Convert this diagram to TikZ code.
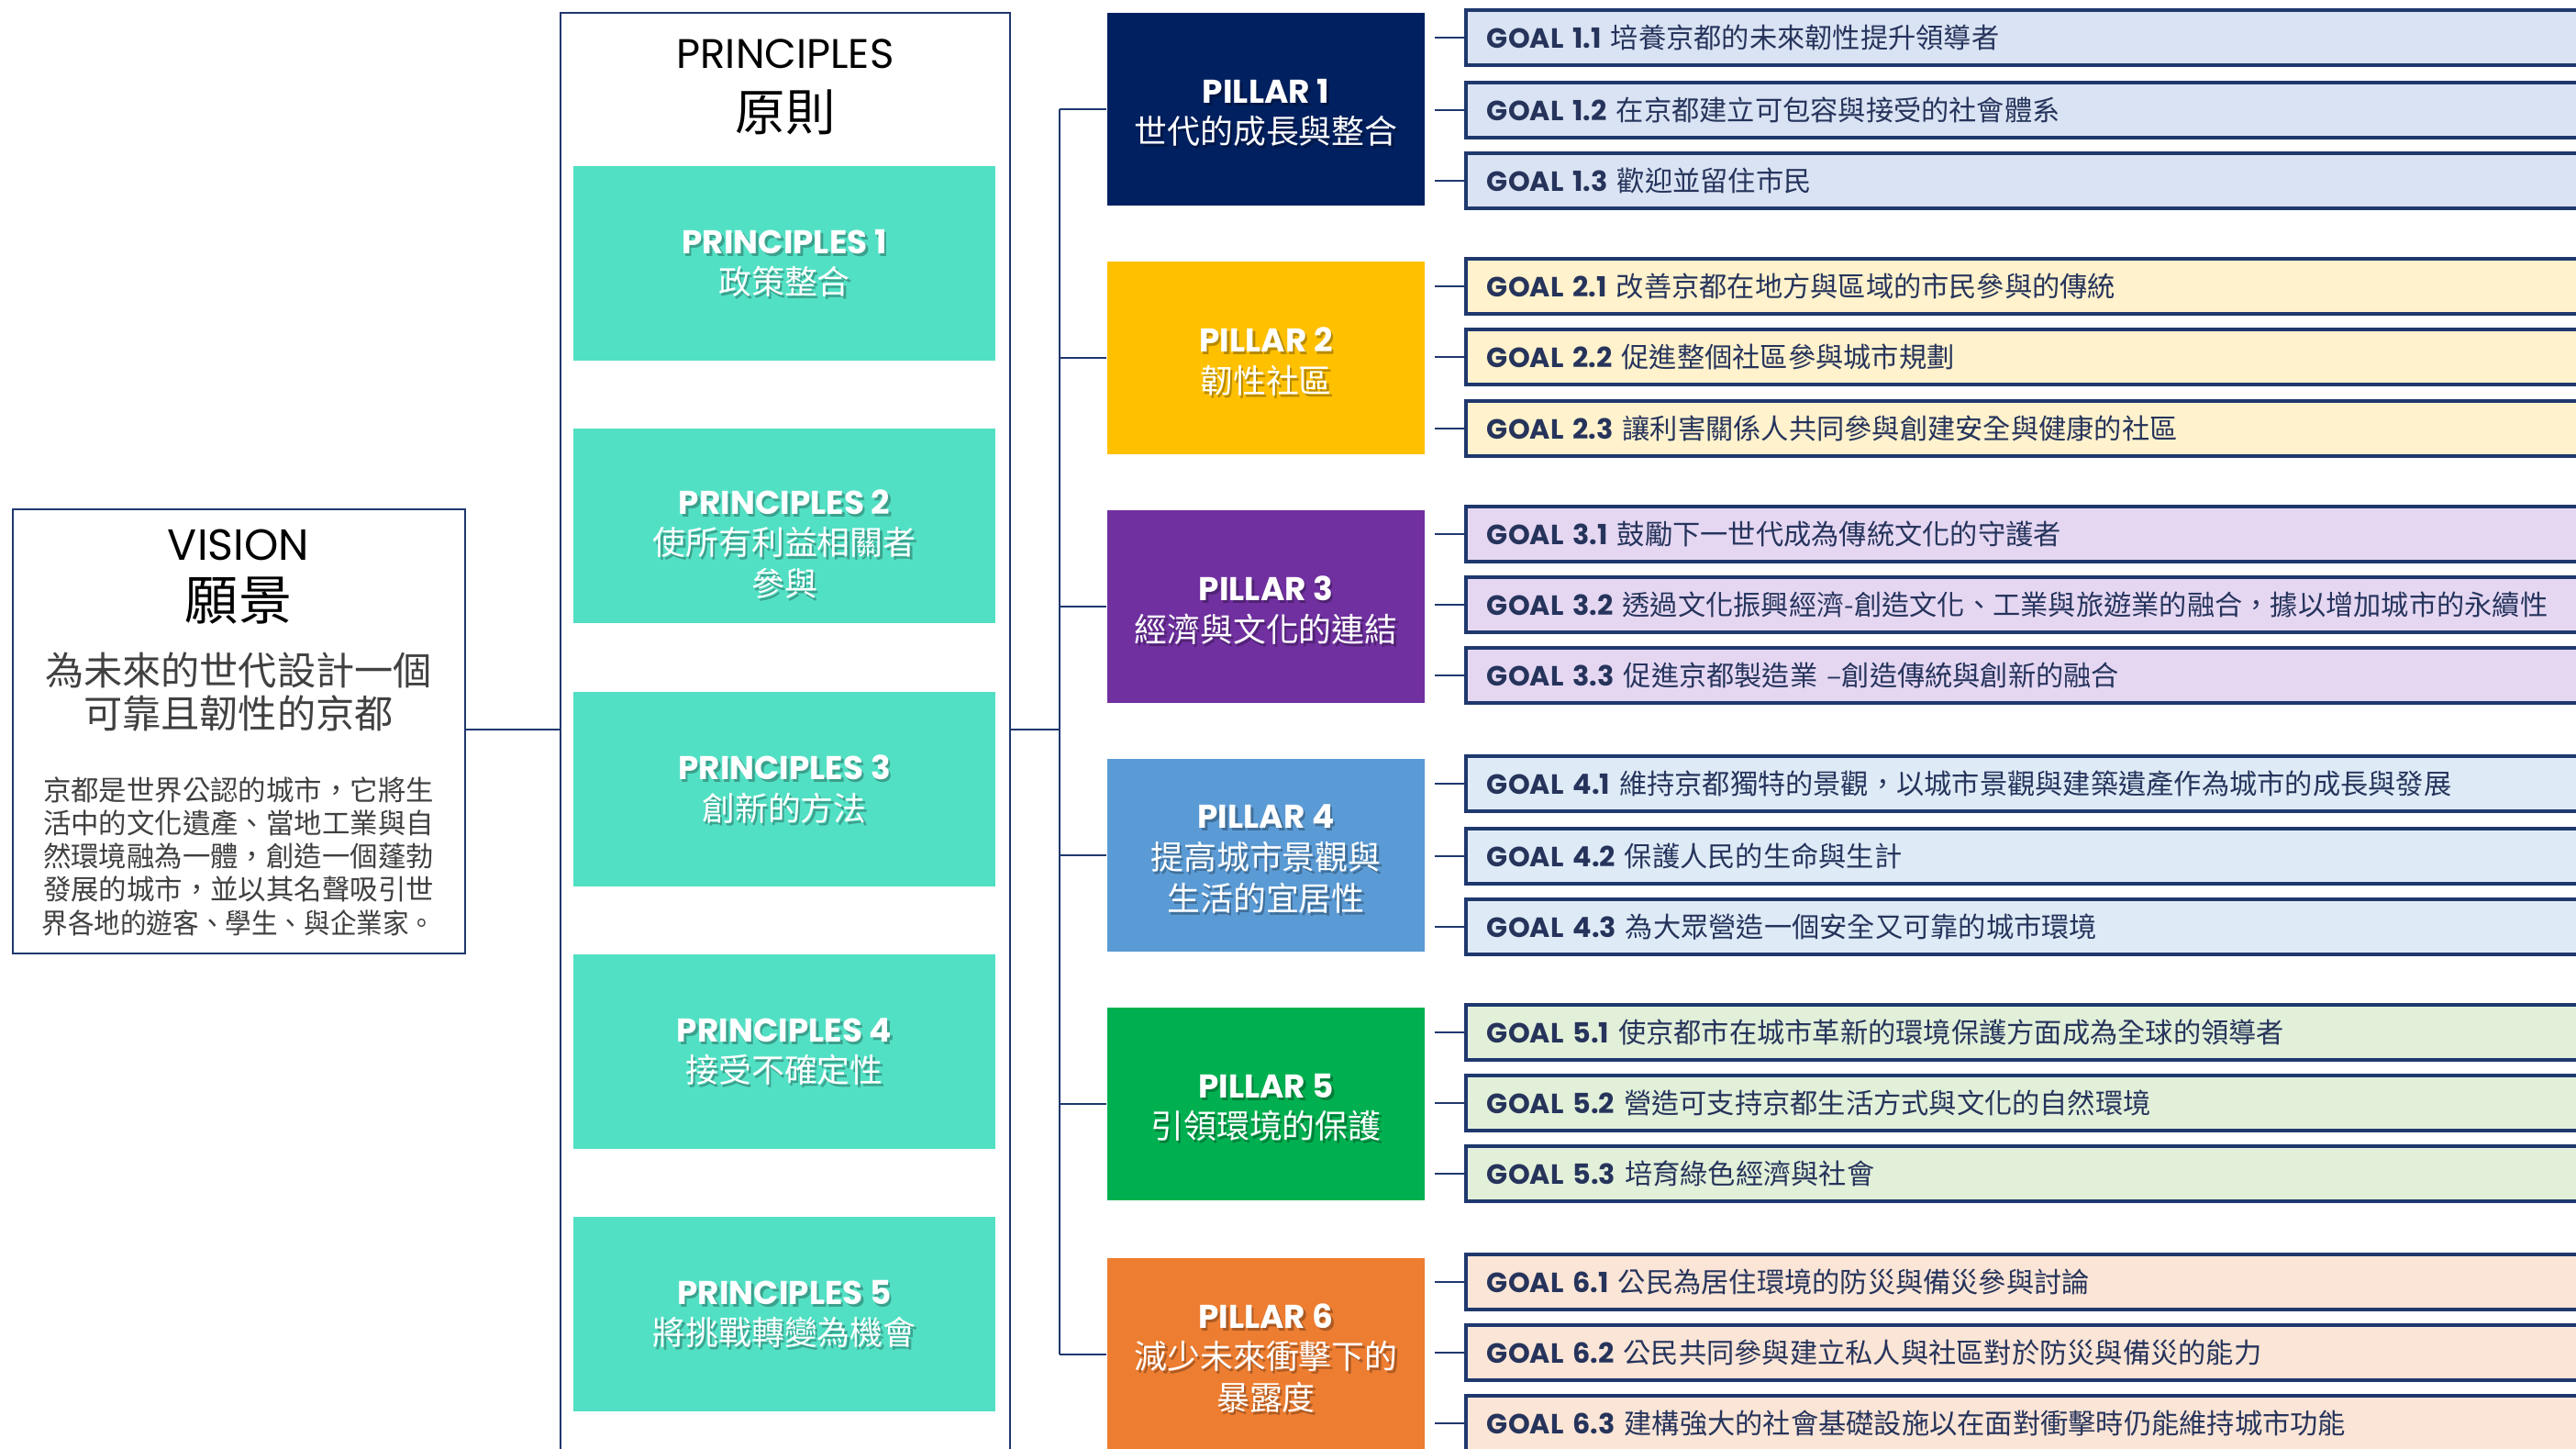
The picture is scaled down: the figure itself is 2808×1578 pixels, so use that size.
\documentclass[tikz,border=0pt]{standalone}
\usepackage{fontspec}
\setmainfont{Poppins}
\newfontfamily\cjk{Noto Sans CJK TC}
\usetikzlibrary{calc}
\definecolor{navy}{RGB}{31,56,110}
\definecolor{teal}{RGB}{82,224,196}
\definecolor{pA}{RGB}{0,32,96}
\definecolor{pB}{RGB}{255,192,0}
\definecolor{pC}{RGB}{112,48,160}
\definecolor{pD}{RGB}{91,155,213}
\definecolor{pE}{RGB}{0,176,80}
\definecolor{pF}{RGB}{237,125,49}
\definecolor{gA}{RGB}{218,227,243}
\definecolor{gB}{RGB}{255,242,204}
\definecolor{gC}{RGB}{229,215,242}
\definecolor{gD}{RGB}{222,235,247}
\definecolor{gE}{RGB}{226,240,217}
\definecolor{gF}{RGB}{251,229,214}
\definecolor{gtext}{RGB}{38,52,92}
\definecolor{dgray}{RGB}{64,64,64}
\tikzset{
  conn/.style={draw=navy, line width=0.75pt},
  frame/.style={draw=navy, line width=0.75pt},
  princ/.style={fill=teal, minimum width=4.6cm, minimum height=2.11cm, inner sep=0pt},
  pillar/.style={minimum width=3.46cm, minimum height=2.1cm, inner sep=0pt},
  boxtxt/.style={text=white, align=center, inner sep=0pt, font=\fontsize{10.2}{12.7}\selectfont},
  shtxt/.style={boxtxt, text=black, text opacity=0.28},
  goal/.style={draw=navy, line width=1.1pt, anchor=west, minimum height=0.6cm,
    text width=12.6cm, inner xsep=0.23cm, inner ysep=0pt, align=left, text=gtext,
    font=\fontsize{8.6}{10}\selectfont},
}
\newcommand\gl[2]{{\bfseries GOAL #1} {\cjk #2}}
% text with soft shadow: #1 box node name, #2 offset (px), #3 content
\newcommand\shadowed[3]{%
  \node[shtxt] (#1s) at ([shift={(2.5,3+#2)}]#1.center) {#3};
  \node[boxtxt] (#1t) at ([shift={(0,#2)}]#1.center) {#3};}
\begin{document}
\begin{tikzpicture}[x=0.01cm, y=-0.01cm]
\useasboundingbox (0,0) rectangle (2808,1578);
\clip (0,0) rectangle (2808,1578);

% Vision
\node[frame, minimum width=4.93cm, minimum height=4.84cm, inner sep=0pt] (vision) at (260.5,797) {};
\node[font=\fontsize{13.5}{14}\selectfont, inner sep=0pt] (visT) at (260,594) {VISION};
\node[font=\cjk\fontsize{16.5}{18}\selectfont, inner sep=0pt] (visZ) at (260,655) {願景};
\node[font=\cjk\fontsize{12}{14}\selectfont, text=dgray, align=center, inner sep=0pt] (visS) at (260,754)
  {為未來的世代設計一個\\[-0.6pt]可靠且韌性的京都};
\node[font=\cjk\fontsize{8.65}{10.3}\selectfont, text=dgray, align=center, inner sep=0pt] (visD) at (260,933)
  {京都是世界公認的城市，它將生\\活中的文化遺產、當地工業與自\\然環境融為一體，創造一個蓬勃\\發展的城市，並以其名聲吸引世\\\scalebox{0.94}[1]{界各地的遊客、學生、與企業家。}};

% Principles frame
\draw[frame] (611,1600) -- (611,14) -- (1101,14) -- (1101,1600);
\coordinate (prL) at (611,795);
\coordinate (prR) at (1101,795);
\node[font=\fontsize{12.8}{14}\selectfont, inner sep=0pt] (prT) at (856,59) {PRINCIPLES};
\node[font=\cjk\fontsize{15.5}{17}\selectfont, inner sep=0pt] (prZ) at (856,122) {原則};
\node[princ] (pr1) at (855,287) {};
\node[princ] (pr2) at (855,573) {};
\node[princ] (pr3) at (855,860) {};
\node[princ] (pr4) at (855,1146) {};
\node[princ] (pr5) at (855,1432) {};
\shadowed{pr1}{0}{{\bfseries PRINCIPLES 1}\\{\cjk 政策整合}}
\shadowed{pr2}{20}{{\bfseries PRINCIPLES 2}\\{\cjk 使所有利益相關者}\\{\cjk 參與}}
\shadowed{pr3}{0}{{\bfseries PRINCIPLES 3}\\{\cjk 創新的方法}}
\shadowed{pr4}{0}{{\bfseries PRINCIPLES 4}\\{\cjk 接受不確定性}}
\shadowed{pr5}{0}{{\bfseries PRINCIPLES 5}\\{\cjk 將挑戰轉變為機會}}

% Pillars
\node[pillar, fill=pA] (pl1) at (1380,119) {};
\node[pillar, fill=pB] (pl2) at (1380,390) {};
\node[pillar, fill=pC] (pl3) at (1380,661) {};
\node[pillar, fill=pD] (pl4) at (1380,932) {};
\node[pillar, fill=pE] (pl5) at (1380,1203) {};
\node[pillar, fill=pF] (pl6) at (1380,1476) {};
\shadowed{pl1}{4}{{\bfseries PILLAR 1}\\{\cjk 世代的成長與整合}}
\shadowed{pl2}{4}{{\bfseries PILLAR 2}\\{\cjk 韌性社區}}
\shadowed{pl3}{4}{{\bfseries PILLAR 3}\\{\cjk 經濟與文化的連結}}
\shadowed{pl4}{4}{{\bfseries PILLAR 4}\\{\cjk 提高城市景觀與}\\{\cjk 生活的宜居性}}
\shadowed{pl5}{4}{{\bfseries PILLAR 5}\\{\cjk 引領環境的保護}}
\shadowed{pl6}{4}{{\bfseries PILLAR 6}\\{\cjk 減少未來衝擊下的}\\{\cjk 暴露度}}

% Goals
\node[goal, fill=gA] (g11) at (1596,41) {\gl{1.1}{培養京都的未來韌性提升領導者}};
\node[goal, fill=gA] (g12) at (1596,120) {\gl{1.2}{在京都建立可包容與接受的社會體系}};
\node[goal, fill=gA] (g13) at (1596,197) {\gl{1.3}{歡迎並留住市民}};
\node[goal, fill=gB] (g21) at (1596,312) {\gl{2.1}{改善京都在地方與區域的市民參與的傳統}};
\node[goal, fill=gB] (g22) at (1596,389) {\gl{2.2}{促進整個社區參與城市規劃}};
\node[goal, fill=gB] (g23) at (1596,467) {\gl{2.3}{讓利害關係人共同參與創建安全與健康的社區}};
\node[goal, fill=gC] (g31) at (1596,582) {\gl{3.1}{鼓勵下一世代成為傳統文化的守護者}};
\node[goal, fill=gC] (g32) at (1596,659) {\gl{3.2}{透過文化振興經濟-創造文化、工業與旅遊業的融合，據以增加城市的永續性}};
\node[goal, fill=gC] (g33) at (1596,736) {\gl{3.3}{促進京都製造業 –創造傳統與創新的融合}};
\node[goal, fill=gD] (g41) at (1596,854) {\gl{4.1}{維持京都獨特的景觀，以城市景觀與建築遺產作為城市的成長與發展}};
\node[goal, fill=gD] (g42) at (1596,933) {\gl{4.2}{保護人民的生命與生計}};
\node[goal, fill=gD] (g43) at (1596,1010) {\gl{4.3}{為大眾營造一個安全又可靠的城市環境}};
\node[goal, fill=gE] (g51) at (1596,1125) {\gl{5.1}{使京都市在城市革新的環境保護方面成為全球的領導者}};
\node[goal, fill=gE] (g52) at (1596,1202) {\gl{5.2}{營造可支持京都生活方式與文化的自然環境}};
\node[goal, fill=gE] (g53) at (1596,1279) {\gl{5.3}{培育綠色經濟與社會}};
\node[goal, fill=gF] (g61) at (1596,1397) {\gl{6.1}{公民為居住環境的防災與備災參與討論}};
\node[goal, fill=gF] (g62) at (1596,1474) {\gl{6.2}{公民共同參與建立私人與社區對於防災與備災的能力}};
\node[goal, fill=gF] (g63) at (1596,1551) {\gl{6.3}{建構強大的社會基礎設施以在面對衝擊時仍能維持城市功能}};

% Connectors
\draw[conn] (vision.east |- prL) -- (prL);
\coordinate (bus1) at (1155,119);
\coordinate (bus6) at (1155,1476);
\draw[conn] (prR) -- (prR -| bus1);
\draw[conn] (bus1) -- (bus6);
\foreach \p in {1,...,6}{
  \draw[conn] (bus1 |- pl\p.west) -- (pl\p.west);
}
\foreach \p/\g in {1/11,1/12,1/13,2/21,2/22,2/23,3/31,3/32,3/33,4/41,4/42,4/43,5/51,5/52,5/53,6/61,6/62,6/63}{
  \draw[conn] ([xshift=0.1cm]pl\p.east |- g\g.west) -- (g\g.west);
}
\end{tikzpicture}
\end{document}
